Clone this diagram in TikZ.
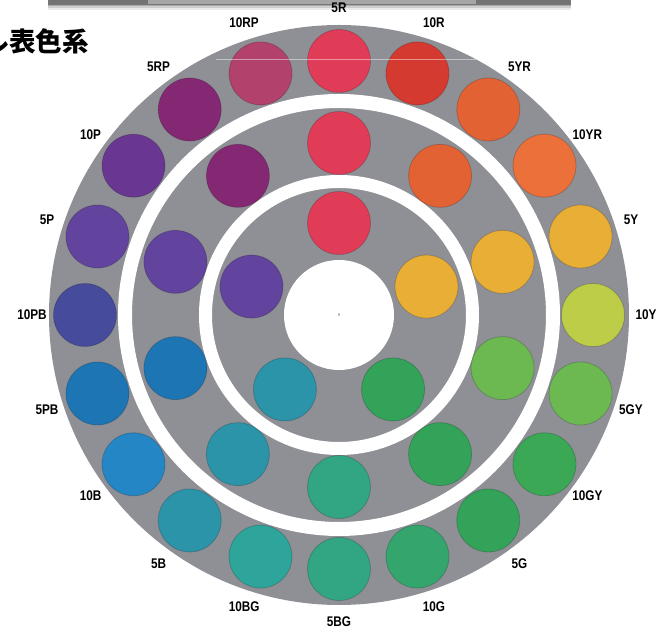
\documentclass[tikz,border=0pt]{standalone}
\usepackage{fontspec}
\newfontfamily\lblfont[FakeStretch=0.84]{Liberation Sans}
\newfontfamily\cjkfont{Noto Sans CJK JP}
\definecolor{wheelgray}{RGB}{142,144,150}
\definecolor{h5R}{RGB}{224,60,88}
\definecolor{h10R}{RGB}{213,58,48}
\definecolor{h5YR}{RGB}{226,98,52}
\definecolor{h10YR}{RGB}{235,112,58}
\definecolor{h5Y}{RGB}{233,174,53}
\definecolor{h10Y}{RGB}{190,205,72}
\definecolor{h5GY}{RGB}{108,185,82}
\definecolor{h10GY}{RGB}{58,168,85}
\definecolor{h5G}{RGB}{50,163,88}
\definecolor{h10G}{RGB}{52,165,108}
\definecolor{h5BG}{RGB}{50,165,130}
\definecolor{h10BG}{RGB}{45,165,155}
\definecolor{h5B}{RGB}{43,148,168}
\definecolor{h10B}{RGB}{36,134,196}
\definecolor{h5PB}{RGB}{30,117,180}
\definecolor{h10PB}{RGB}{70,75,155}
\definecolor{h5P}{RGB}{98,68,158}
\definecolor{h10P}{RGB}{105,55,145}
\definecolor{h5RP}{RGB}{133,40,115}
\definecolor{h10RP}{RGB}{178,65,108}
\begin{document}
\begin{tikzpicture}[x=1pt,y=1pt,
  chip/.style={draw=black, draw opacity=0.18, line width=0.8pt},
  hue/.style={font=\lblfont\bfseries\fontsize{14}{14}\selectfont, inner sep=0pt}]
  \useasboundingbox (-339,-313) rectangle (318,315);
  % bar at the top
  \foreach \d/\o in {10/0.08, 8/0.12, 6.5/0.18, 5/0.3}
    \fill[black, opacity=\o] (-291,315) rectangle (232,315-\d);
  \fill[black!55] (-289,315) rectangle (230,311);
  \fill[black!35] (-191,315) rectangle (137,311);
  \node[anchor=base east, inner sep=0pt,
    font=\cjkfont\bfseries\fontsize{26.5}{30}\selectfont] (title) at (-250,263) {ル表色系};
  % wheel
  \fill[wheelgray] (0,0) circle (290pt);
  \draw[white, line width=14pt] (0,0) circle (214pt);
  \draw[white, line width=13pt] (0,0) circle (133.5pt);
  \fill[white] (0,0) circle (55pt);
  \fill[wheelgray] (0,0.5) ellipse (0.8pt and 1.6pt);
  \foreach \a/\h in {90/5R, 72/10R, 54/5YR, 36/10YR, 18/5Y, 0/10Y,
    -18/5GY, -36/10GY, -54/5G, -72/10G, -90/5BG, -108/10BG,
    -126/5B, -144/10B, -162/5PB, 180/10PB, 162/5P, 144/10P,
    126/5RP, 108/10RP}
  {
    \path[chip, fill=h\h] (\a:254) circle (31.5pt);
    \node[hue] (l\h) at (\a:307) {\h};
  }
  \foreach \a/\h in {90/5R, 54/5YR, 18/5Y, -18/5GY, -54/5G,
    -90/5BG, -126/5B, -162/5PB, 162/5P, 126/5RP}
    \path[chip, fill=h\h] (\a:172) circle (31.5pt);
  \foreach \a/\h in {90/5R, 18/5Y, -54/5G, -126/5B, 162/5P}
    \path[chip, fill=h\h] (\a:92) circle (31.5pt);
  % faint line from the scan
  \draw[white, opacity=0.45, line width=0.8pt] (-123,256) -- (137,256);
\end{tikzpicture}
\end{document}
